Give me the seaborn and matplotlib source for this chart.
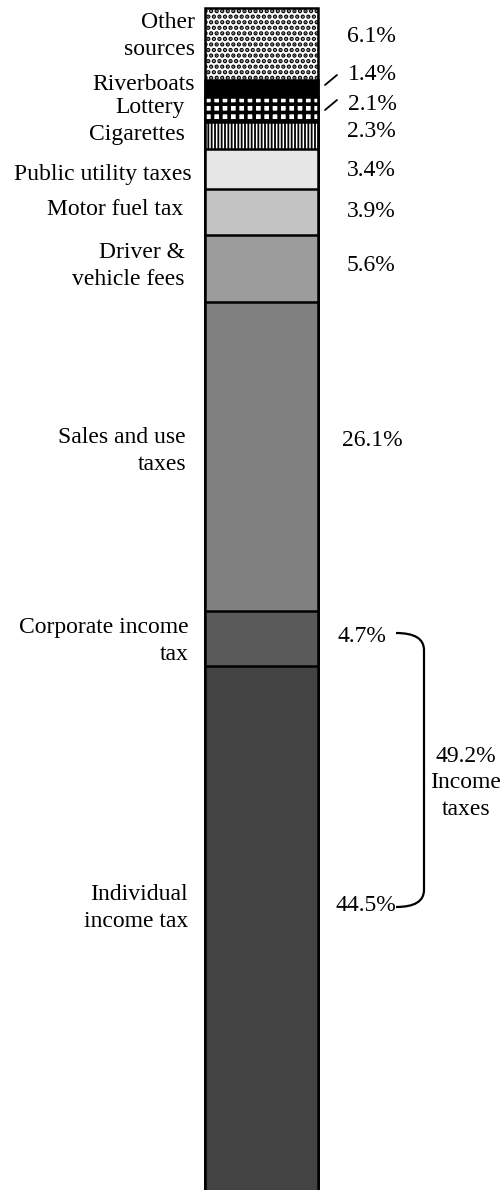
import numpy as np
import pandas as pd
import matplotlib
matplotlib.use("Agg")
import matplotlib.pyplot as plt
import matplotlib.transforms as mtransforms
from matplotlib.path import Path
from matplotlib.patches import PathPatch
import seaborn as sns

# Revenue shares, bottom of the bar to top
sources = ["Individual\nincome tax", "Corporate income\ntax", "Sales and use\ntaxes",
           "Driver &\nvehicle fees", "Motor fuel tax", "Public utility taxes",
           "Cigarettes", "Lottery", "Riverboats", "Other\nsources"]
shares = [44.5, 4.7, 26.1, 5.6, 3.9, 3.4, 2.3, 2.1, 1.4, 6.1]
pct_labels = ["44.5%", "4.7%", "26.1%", "5.6%", "3.9%", "3.4%", "2.3%", "2.1%", "1.4%", "6.1%"]
income_total = "49.2%\nIncome\ntaxes"

# look of each segment
face = ["#434343", "#5a5a5a", "#808080", "#9c9c9c", "#c3c3c3", "#e6e6e6",
        "white", "white", "black", "white"]
hatches = [None, None, None, None, None, None, "|||||", "++", None, "..."]
hatch_lw = {6: 1.3, 7: 2.6, 9: 2.2}

df = pd.DataFrame({"source": sources, "share": shares})
df["top"] = df["share"].cumsum()
df["bar"] = "revenue"

sns.set_style("white")
plt.rcParams["font.family"] = ["Liberation Serif", "DejaVu Serif"]
plt.rcParams["text.color"] = "black"
plt.rcParams["hatch.linewidth"] = 1.0

W, H = 503, 1190
fig = plt.figure(figsize=(W / 100, H / 100), dpi=100)
px_per_pct = 11.84
ax_left, ax_right, ax_top_px = 200, 323, 4
ax = fig.add_axes([ax_left / W, 0, (ax_right - ax_left) / W, 1 - ax_top_px / H])
total = df["top"].iloc[-1]
ytop = total + (8 - ax_top_px) / px_per_pct
ybot = ytop - (H - ax_top_px) / px_per_pct
bar_w = 113 / (ax_right - ax_left)

# overlay cumulative bars from the top segment down so each covers the one below
for i in reversed(range(len(df))):
    kw = {}
    if hatches[i]:
        kw["hatch"] = hatches[i]
    with plt.rc_context({"hatch.linewidth": hatch_lw.get(i, 1.0)}):
        sns.barplot(data=df.iloc[[i]], x="bar", y="top", color=face[i], saturation=1,
                    width=bar_w, edgecolor="black", linewidth=1.8, ax=ax, **kw)

ax.set_xlim(-0.5, 0.5)
ax.set_ylim(ybot, ytop)
ax.axis("off")

tr = mtransforms.blended_transform_factory(fig.transFigure, ax.transData)


def ypx(py):
    return total - (py - 8) / px_per_pct


fs = 17
# category labels: right edge x (px), last-line baseline (px)
lab_x = [188, 189, 186, 185, 183, 192, 185, 185, 195, 195]
lab_y = [927, 660, 470, 285, 215, 180, 140, 113, 90, 55]
for s, x, y in zip(sources, lab_x, lab_y):
    ax.text(x / W, ypx(y), s, transform=tr, ha="right", va="baseline",
            fontsize=fs, linespacing=1.35, multialignment="right")

pct_x = [336, 337, 342, 347, 347, 347, 347, 348, 348, 347]
pct_y = [911, 642, 446, 271, 217, 176, 137, 110, 80, 42]
for s, x, y in zip(pct_labels, pct_x, pct_y):
    ax.text(x / W, ypx(y), s, transform=tr, ha="left", va="baseline", fontsize=fs)

# small leader ticks for the thin segments
for y0, y1 in [(85, 75), (110, 100)]:
    ax.plot([325 / W, 337 / W], [ypx(y0), ypx(y1)], transform=tr, color="black",
            lw=1.3, clip_on=False)

# bracket for income taxes
xa, xb = 396 / W, 424 / W
verts = [(xa, ypx(633)), (xb, ypx(633)), (xb, ypx(650)),
         (xb, ypx(890)), (xb, ypx(907)), (xa, ypx(907))]
codes = [Path.MOVETO, Path.CURVE3, Path.CURVE3, Path.LINETO, Path.CURVE3, Path.CURVE3]
ax.add_patch(PathPatch(Path(verts, codes), transform=tr, fill=False, lw=1.6,
                       edgecolor="black", clip_on=False))
ax.text(466 / W, ypx(815), income_total, transform=tr, ha="center", va="baseline",
        fontsize=fs, linespacing=1.35)

fig.savefig("out.png", dpi=100)
